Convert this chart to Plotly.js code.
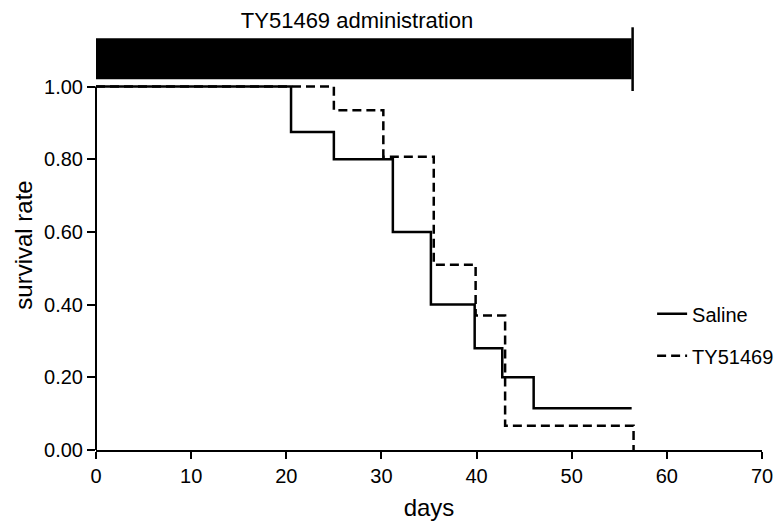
<!DOCTYPE html>
<html>
<head>
<meta charset="utf-8">
<script src="https://cdn.plot.ly/plotly-3.0.1.min.js"></script>
<style>html,body{margin:0;padding:0;background:#fff;}#chart{width:774px;height:521px;}</style>
</head>
<body>
<div id="chart"></div>
<script>
// Kaplan-Meier style survival steps (days, survival rate)
const salineDays = [0, 20.5, 25.0, 31.2, 35.2, 39.8, 42.7, 46.0, 56.3];
const salineSurv = [1.00, 0.875, 0.80, 0.60, 0.40, 0.28, 0.20, 0.115, 0.115];
const tyDays = [0, 25.0, 30.2, 35.5, 39.9, 43.0, 56.5];
const tySurv = [1.00, 0.935, 0.807, 0.51, 0.37, 0.067, 0.00];
const seriesNames = ["Saline", "TY51469"];
// administration period (days)
const adminStart = 0;
const adminEnd = 56.4;
const adminLabel = "TY51469 administration";
const xTicks = [0, 10, 20, 30, 40, 50, 60, 70];
const yTicks = [0, 0.2, 0.4, 0.6, 0.8, 1.0];

const FONT = "Liberation Sans, Arial, sans-serif";
const yMax = 1.128;
const yPaper = v => v / yMax;

const traces = [
  {x: salineDays, y: salineSurv, name: seriesNames[0], type: "scatter", mode: "lines",
   line: {shape: "hv", color: "#000", width: 2.5}, legendgroup: "a"},
  {x: tyDays, y: tySurv, name: seriesNames[1], type: "scatter", mode: "lines",
   line: {shape: "hv", color: "#000", width: 2.5, dash: "9px,5px"}, legendgroup: "b"}
];

const layout = {
  width: 774, height: 521,
  margin: {l: 96, r: 12, t: 40, b: 71, autoexpand: false},
  paper_bgcolor: "#fff", plot_bgcolor: "#fff",
  font: {family: FONT, color: "#000", size: 20},
  title: {text: adminLabel, font: {family: FONT, size: 22, color: "#000"},
          x: 357/774, xref: "container", xanchor: "center",
          y: 1 - 20/521, yref: "container", yanchor: "middle"},
  showlegend: true,
  legend: {x: 0.835, y: 0.380, xanchor: "left", yanchor: "top",
           bgcolor: "rgba(0,0,0,0)", borderwidth: 0,
           font: {family: FONT, size: 20, color: "#000"},
           traceorder: "grouped", tracegroupgap: 13},
  xaxis: {range: [0, 70], tickvals: xTicks, ticks: "outside", ticklen: 7, tickwidth: 2,
          tickcolor: "#000", showline: true, linewidth: 2, linecolor: "#000",
          showgrid: false, zeroline: false, automargin: true,
          tickfont: {family: FONT, size: 20, color: "#000"},
          title: {text: "days", font: {family: FONT, size: 24, color: "#000"}, standoff: 30}},
  yaxis: {range: [0, yMax], tickvals: yTicks, tickformat: ".2f", ticks: "outside", ticklen: 8,
          tickwidth: 2, tickcolor: "#000", showline: false,
          showgrid: false, zeroline: false, automargin: true,
          tickfont: {family: FONT, size: 20, color: "#000"},
          title: {text: "survival rate", font: {family: FONT, size: 24, color: "#000"}, standoff: 4}},
  shapes: [
    // y-axis line drawn only up to 1.00
    {type: "line", xref: "paper", yref: "paper", x0: 0, x1: 0,
     y0: 0, y1: yPaper(1.0), line: {color: "#000", width: 2}},
    // administration bar
    {type: "rect", xref: "x", yref: "paper", x0: adminStart, x1: adminEnd - 0.1,
     y0: 0.9044, y1: 1.004, fillcolor: "#000", line: {width: 0}},
    {type: "line", xref: "x", yref: "paper", x0: adminEnd, x1: adminEnd,
     y0: 0.8756, y1: 1.031, line: {color: "#000", width: 2.5}}
  ]
};

Plotly.newPlot("chart", traces, layout, {displayModeBar: false, staticPlot: true});
</script>
</body>
</html>
